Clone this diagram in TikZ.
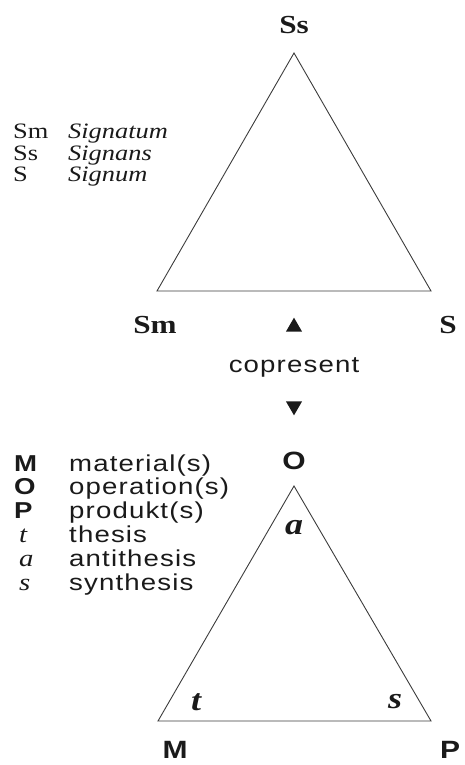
\documentclass[tikz,border=0pt]{standalone}
\usepackage{fontspec}
\setmainfont{Liberation Serif}[FakeStretch=1.2]
\setsansfont{Liberation Sans}[FakeStretch=1.2,LetterSpace=5]
\usetikzlibrary{shapes.geometric}
\definecolor{ink}{HTML}{1A1A1A}
\newcommand{\serifsz}{\fontsize{22}{24}\selectfont}
\newcommand{\sanssz}{\fontsize{23}{26}\selectfont\sffamily}

\begin{document}
\begin{tikzpicture}[x=1pt,y=-1pt,
  side/.style={draw=ink!85,line width=0.9pt,line join=miter},
  vlabel/.style={font=\fontsize{26}{28}\selectfont\bfseries,text=ink},
  mlabel/.style={font=\fontsize{25}{28}\selectfont\sffamily\bfseries,text=ink},
  angl/.style={font=\fontsize{30}{33}\selectfont\bfseries\itshape,text=ink},
  legend/.style={font=\serifsz,text=ink,anchor=base west,inner sep=0pt},
  slegend/.style={font=\sanssz,text=ink,anchor=base west,inner sep=0pt},
  tri/.style={isosceles triangle,isosceles triangle apex angle=60,fill=ink,
    inner sep=0pt,minimum height=14pt,minimum width=16pt}]
  \useasboundingbox (0,0) rectangle (464,765);
  % sign triangle
  \coordinate (ssv) at (294,53);
  \coordinate (smv) at (157,291);
  \coordinate (sv) at (431,291);
  \draw[side] (ssv) -- (smv) -- (sv) -- cycle;
  \node[vlabel] (ss) at (294,25) {Ss};
  \node[vlabel] (sm) at (155,325) {Sm};
  \node[vlabel] (s) at (448,325) {S};
  \foreach \ab/\txt [count=\i] in {Sm/Signatum,Ss/Signans,S/Signum} {
    \node[legend] (sab\i) at (13,139+21*\i-21) {\ab};
    \node[legend,font=\serifsz\itshape] (stx\i) at (68,139+21*\i-21) {\txt};
  }
  % copresent
  \node[tri,shape border rotate=90] (up) at (294,327) {};
  \node[font=\sanssz,text=ink] (cop) at (294,367) {copresent};
  \node[tri,shape border rotate=-90] (down) at (294,406) {};
  % M-O-P triangle
  \coordinate (ov) at (294,486);
  \coordinate (mv) at (158,721);
  \coordinate (pv) at (431,721);
  \draw[side] (ov) -- (mv) -- (pv) -- cycle;
  \node[mlabel] (o) at (294,461) {O};
  \node[mlabel] (m) at (175,750) {M};
  \node[mlabel] (p) at (450,750) {P};
  \node[angl] (a) at (294,528) {a};
  \node[angl] (t) at (196,702) {t};
  \node[angl] (s2) at (395,702) {s};
  \foreach \ab/\txt [count=\i] in {M/material(s),O/operation(s),P/produkt(s)} {
    \node[slegend,font=\sanssz\bfseries] (mab\i) at (14,471+23.8*\i-23.8) {\ab};
    \node[slegend] (mtx\i) at (69,471+23.8*\i-23.8) {\txt};
  }
  \foreach \ab/\txt [count=\i from 4] in {t/thesis,a/antithesis,s/synthesis} {
    \node[legend,font=\fontsize{24}{26}\selectfont\itshape] (mab\i) at (19,471+23.8*\i-23.8) {\ab};
    \node[slegend] (mtx\i) at (69,471+23.8*\i-23.8) {\txt};
  }
\end{tikzpicture}
\end{document}
